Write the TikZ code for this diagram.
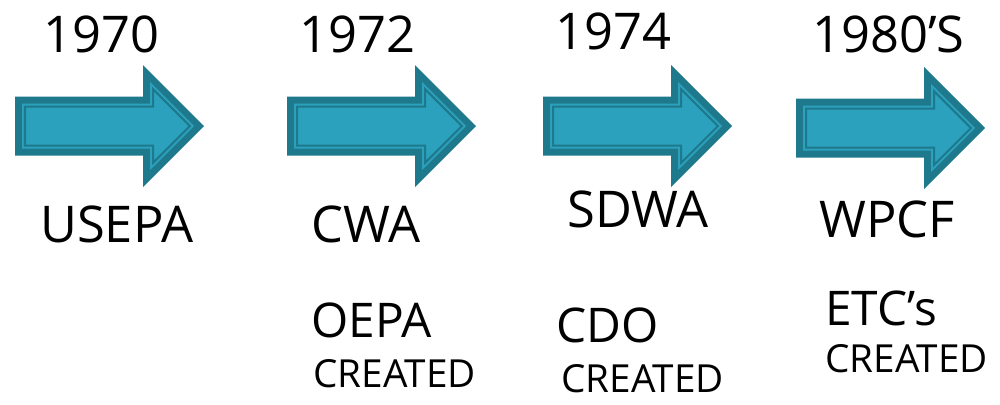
\documentclass[tikz,border=0pt]{standalone}
\usepackage{fontspec}
\setmainfont{Open Sans}
\usepackage{tikz}

\definecolor{arrowdark}{RGB}{31,121,140}
\definecolor{arrowlight}{RGB}{44,161,190}

\begin{document}
\begin{tikzpicture}
[x=0.025cm, y=-0.025cm,
 big/.style={anchor=base west,inner sep=0pt,font=\fontsize{36}{36}\selectfont},
 mid/.style={anchor=base west,inner sep=0pt,font=\fontsize{34}{34}\selectfont},
 small/.style={anchor=base west,inner sep=0pt,font=\fontsize{27.5}{27.5}\selectfont},
 timearrow/.pic={
   \fill[arrowdark] (0,-29.5) -- (128,-29.5) -- (128,-61) -- (189,0) --
                    (128,61) -- (128,29.5) -- (0,29.5) -- cycle;
   \fill[arrowlight] (7,-22.5) -- (135,-22.5) -- (135,-44.1) -- (179.1,0) --
                     (135,44.1) -- (135,22.5) -- (7,22.5) -- cycle;
   \draw[arrowdark, line width=0.05cm] (10,-19.5) -- (138,-19.5) -- (138,-36.9) --
                     (174.9,0) -- (138,36.9) -- (138,19.5) -- (10,19.5) -- cycle;
 }]
\useasboundingbox[fill=white] (0,0) rectangle (1000,404);
% arrows
\pic (arrow1) at ( 15,126) {timearrow};
\pic (arrow2) at (287,126) {timearrow};
\pic (arrow3) at (543,126) {timearrow};
\pic (arrow4) at (796,128) {timearrow};
% years
\node[big] (year1) at ( 43,52) {1970};
\node[big] (year2) at (299,52) {1972};
\node[big] (year3) at (555,49) {1974};
\node[big] (year4) at (812,52) {1980’S};
% first line
\node[big] (law1) at ( 40,242) {USEPA};
\node[big] (law2) at (311,242) {CWA};
\node[big] (law3) at (567,227) {SDWA};
\node[big] (law4) at (819,237) {WPCF};
% second line
\node[mid]   (org2) at (311,337) {OEPA};
\node[small] (new2) at (313,387) {CREATED};
\node[mid]   (org3) at (556,342) {CDO};
\node[small] (new3) at (561,392) {CREATED};
\node[mid]   (org4) at (825,325) {ETC’s};
\node[small] (new4) at (825,372) {CREATED};
\end{tikzpicture}
\end{document}
